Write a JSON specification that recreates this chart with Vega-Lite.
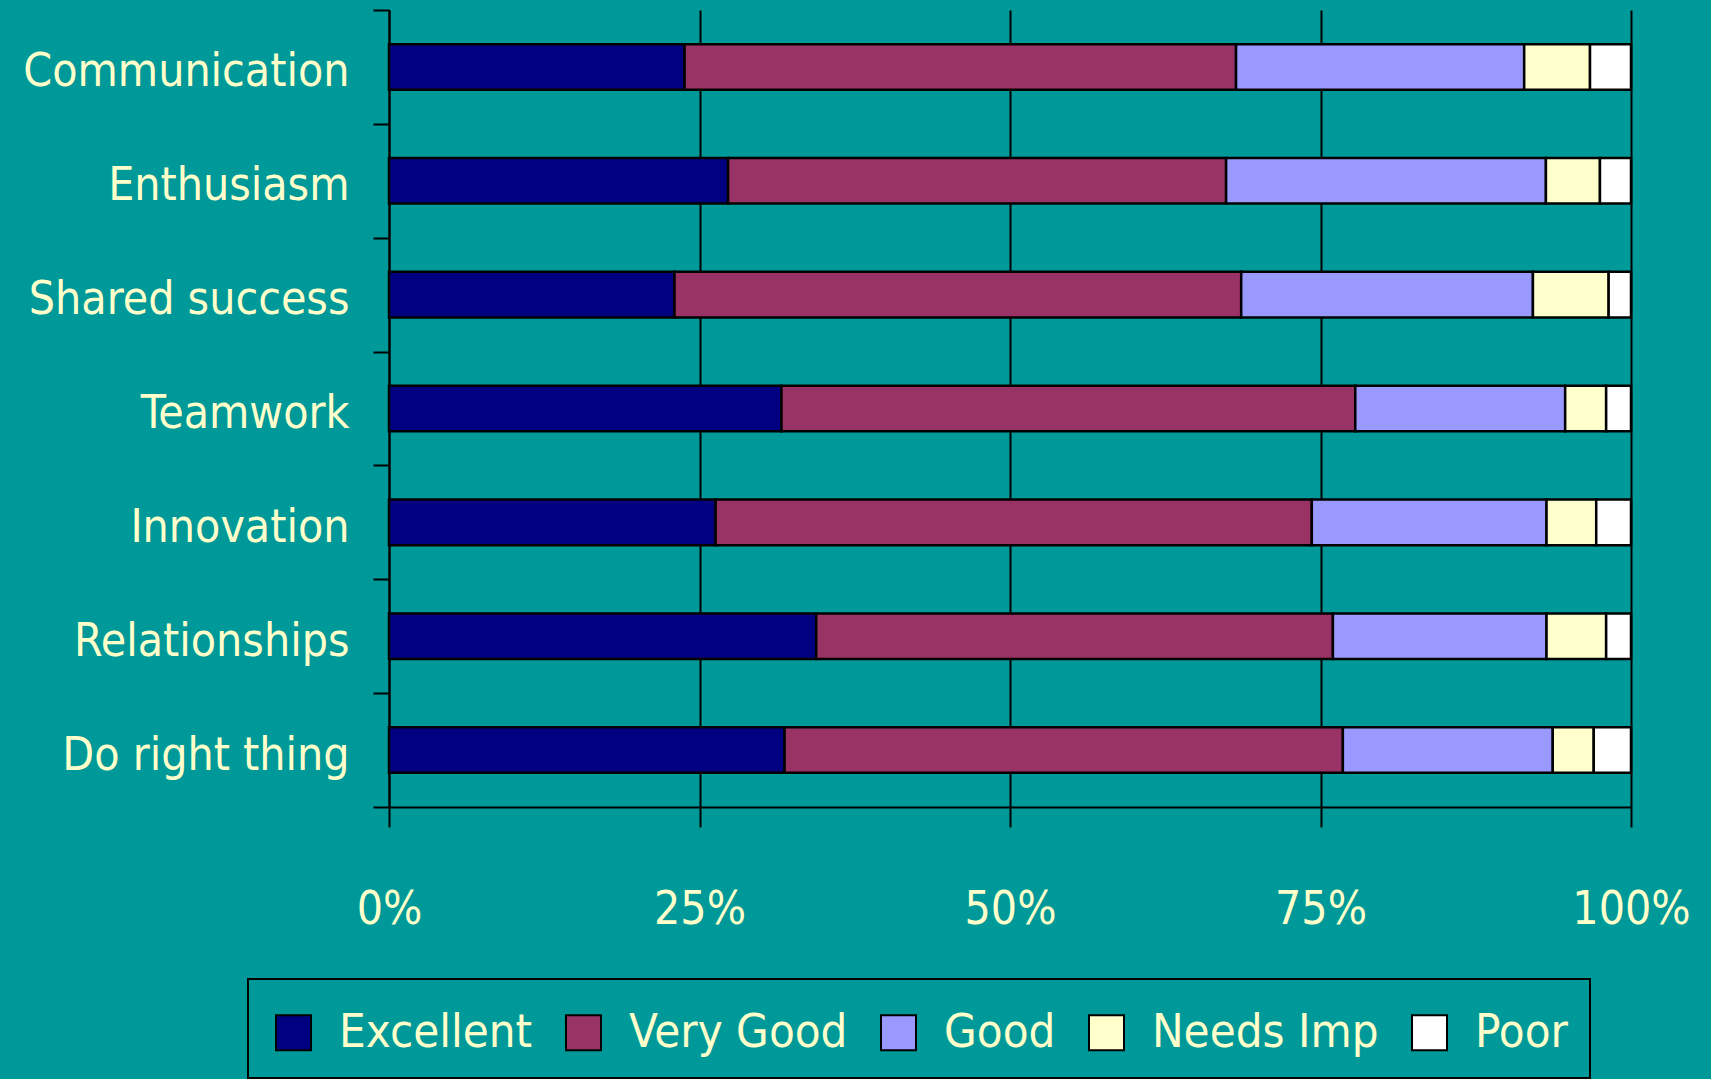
{
  "$schema": "https://vega.github.io/schema/vega-lite/v6.json",
  "width": 1242,
  "height": 797,
  "autosize": {"type": "none"},
  "padding": {"left": 389, "top": 10, "right": 80, "bottom": 272},
  "background": "#009999",
  "config": {
    "view": {"stroke": null},
    "font": "DejaVu Sans Condensed",
    "legend": {"strokeWidth": 2}
  },
  "data": {
    "values": [
      {"attr": "Communication", "rating": "Excellent", "pct": 23.8},
      {"attr": "Communication", "rating": "Very Good", "pct": 44.4},
      {"attr": "Communication", "rating": "Good", "pct": 23.2},
      {"attr": "Communication", "rating": "Needs Imp", "pct": 5.3},
      {"attr": "Communication", "rating": "Poor", "pct": 3.3},
      {"attr": "Enthusiasm", "rating": "Excellent", "pct": 27.3},
      {"attr": "Enthusiasm", "rating": "Very Good", "pct": 40.1},
      {"attr": "Enthusiasm", "rating": "Good", "pct": 25.75},
      {"attr": "Enthusiasm", "rating": "Needs Imp", "pct": 4.35},
      {"attr": "Enthusiasm", "rating": "Poor", "pct": 2.5},
      {"attr": "Shared success", "rating": "Excellent", "pct": 23.0},
      {"attr": "Shared success", "rating": "Very Good", "pct": 45.65},
      {"attr": "Shared success", "rating": "Good", "pct": 23.5},
      {"attr": "Shared success", "rating": "Needs Imp", "pct": 6.1},
      {"attr": "Shared success", "rating": "Poor", "pct": 1.8},
      {"attr": "Teamwork", "rating": "Excellent", "pct": 31.6},
      {"attr": "Teamwork", "rating": "Very Good", "pct": 46.2},
      {"attr": "Teamwork", "rating": "Good", "pct": 16.9},
      {"attr": "Teamwork", "rating": "Needs Imp", "pct": 3.3},
      {"attr": "Teamwork", "rating": "Poor", "pct": 2.0},
      {"attr": "Innovation", "rating": "Excellent", "pct": 26.3},
      {"attr": "Innovation", "rating": "Very Good", "pct": 48.0},
      {"attr": "Innovation", "rating": "Good", "pct": 18.9},
      {"attr": "Innovation", "rating": "Needs Imp", "pct": 4.0},
      {"attr": "Innovation", "rating": "Poor", "pct": 2.8},
      {"attr": "Relationships", "rating": "Excellent", "pct": 34.4},
      {"attr": "Relationships", "rating": "Very Good", "pct": 41.6},
      {"attr": "Relationships", "rating": "Good", "pct": 17.2},
      {"attr": "Relationships", "rating": "Needs Imp", "pct": 4.8},
      {"attr": "Relationships", "rating": "Poor", "pct": 2.0},
      {"attr": "Do right thing", "rating": "Excellent", "pct": 31.85},
      {"attr": "Do right thing", "rating": "Very Good", "pct": 44.95},
      {"attr": "Do right thing", "rating": "Good", "pct": 16.9},
      {"attr": "Do right thing", "rating": "Needs Imp", "pct": 3.3},
      {"attr": "Do right thing", "rating": "Poor", "pct": 3.0}
    ]
  },
  "transform": [
    {"calculate": "indexof(['Excellent', 'Very Good', 'Good', 'Needs Imp', 'Poor'], datum.rating)", "as": "stackOrder"}
  ],
  "mark": {"type": "bar", "stroke": "black", "strokeWidth": 2.5, "height": {"band": 0.4}},
  "encoding": {
    "y": {
      "field": "attr",
      "type": "nominal",
      "sort": ["Communication", "Enthusiasm", "Shared success", "Teamwork", "Innovation", "Relationships", "Do right thing"],
      "scale": {"paddingInner": 0, "paddingOuter": 0},
      "axis": {
        "title": null,
        "tickBand": "extent",
        "tickSize": 16,
        "tickWidth": 2,
        "tickColor": "black",
        "domainColor": "black",
        "domainWidth": 2,
        "labelFontSize": 46,
        "labelColor": "#FFFFCC",
        "labelPadding": 24,
        "labelOffset": 5,
        "labelLimit": 0
      }
    },
    "x": {
      "field": "pct",
      "type": "quantitative",
      "stack": "normalize",
      "scale": {"domain": [0, 1], "nice": false},
      "axis": {
        "title": null,
        "values": [0, 0.25, 0.5, 0.75, 1],
        "format": ".0%",
        "grid": true,
        "gridColor": "black",
        "gridWidth": 2,
        "gridOpacity": 1,
        "tickSize": 20,
        "tickWidth": 2,
        "tickColor": "black",
        "domainColor": "black",
        "domainWidth": 2,
        "labelFontSize": 46,
        "labelColor": "#FFFFCC",
        "labelPadding": 60,
        "labelFlush": false,
        "labelOverlap": false
      }
    },
    "order": {"field": "stackOrder", "type": "quantitative"},
    "color": {
      "field": "rating",
      "type": "nominal",
      "sort": ["Excellent", "Very Good", "Good", "Needs Imp", "Poor"],
      "scale": {
        "domain": ["Excellent", "Very Good", "Good", "Needs Imp", "Poor"],
        "range": ["#000080", "#993366", "#9999FF", "#FFFFCC", "#FFFFFF"]
      },
      "legend": {
        "title": " ",
        "titleFontSize": 2,
        "titlePadding": 6,
        "orient": "none",
        "legendX": -141,
        "legendY": 969,
        "direction": "horizontal",
        "columns": 5,
        "padding": 22,
        "strokeColor": "black",
        "symbolType": "square",
        "symbolSize": 1225,
        "symbolStrokeColor": "black",
        "symbolStrokeWidth": 2,
        "symbolOpacity": 1,
        "labelFontSize": 47,
        "labelColor": "#FFFFCC",
        "labelOffset": 22,
        "labelLimit": 0,
        "columnPadding": 27
      }
    }
  }
}
